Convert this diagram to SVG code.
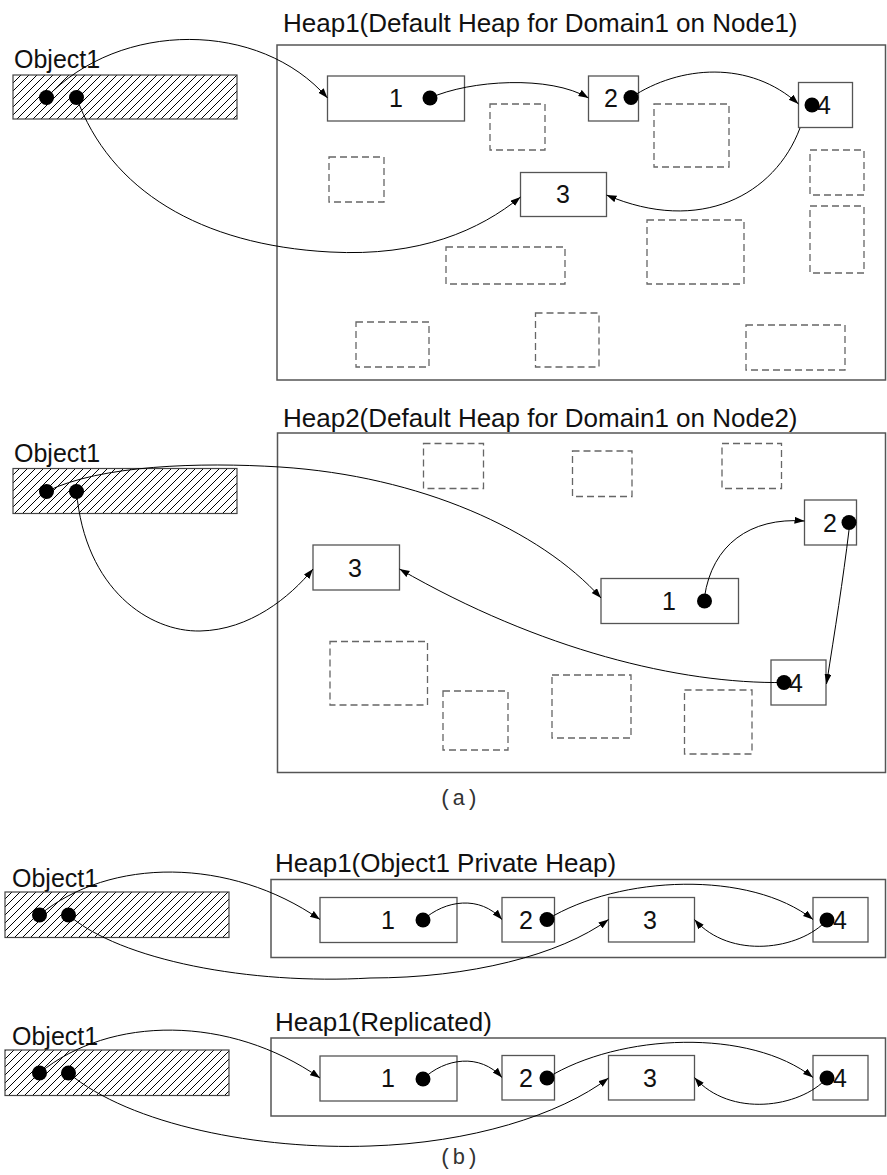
<svg xmlns="http://www.w3.org/2000/svg" width="887" height="1175" viewBox="0 0 887 1175">
<defs>
<pattern id="hatch" patternUnits="userSpaceOnUse" width="8" height="8">
<path d="M-2,2 L2,-2 M0,8 L8,0 M6,10 L10,6" stroke="#000" stroke-width="1"/>
</pattern>
<marker id="arr" markerUnits="userSpaceOnUse" markerWidth="11" markerHeight="8" refX="10" refY="3.5" orient="auto">
<path d="M0,0 L10,3.5 L0,7 z" fill="#000"/>
</marker>
</defs>
<style>
.frame{fill:none;stroke:#555;stroke-width:1.5}
.box{fill:#fff;stroke:#555;stroke-width:1.3}
.free{fill:none;stroke:#666;stroke-width:1.3;stroke-dasharray:7,4}
.obj{fill:url(#hatch);stroke:#444;stroke-width:1.2}
.dot{fill:#000}
.t{font-family:"Liberation Sans",Arial,sans-serif;fill:#111}
.ttl{font-size:26px}
.lbl{font-size:25px}
.num{font-size:25px;text-anchor:middle}
.cap{font-family:"Liberation Mono","Courier New",monospace;font-size:22px;fill:#333}
.c{fill:none;stroke:#000;stroke-width:1;marker-end:url(#arr)}
</style>

<!-- (a) top -->
<g id="heap1a">
<rect class="frame" x="277" y="45" width="608.5" height="335"/>
<text class="t ttl" x="283" y="32">Heap1(Default Heap for Domain1 on Node1)</text>
<rect class="free" x="490" y="104" width="55" height="46"/>
<rect class="free" x="654" y="104" width="75" height="63"/>
<rect class="free" x="329" y="157" width="55" height="45"/>
<rect class="free" x="810" y="150" width="54" height="45"/>
<rect class="free" x="810" y="206" width="54" height="67"/>
<rect class="free" x="446" y="247" width="119" height="37"/>
<rect class="free" x="647" y="220" width="97" height="64"/>
<rect class="free" x="356" y="322" width="73" height="45"/>
<rect class="free" x="535.5" y="313" width="63.5" height="54"/>
<rect class="free" x="746" y="325" width="99" height="45"/>
</g>
<g id="obj1a">
<text class="t lbl" x="14" y="68">Object1</text>
<rect class="obj" x="13" y="75" width="224" height="44"/>
<circle class="dot" cx="46.5" cy="97.5" r="7.5"/>
<circle class="dot" cx="76.5" cy="97.5" r="7.5"/>
</g>
<g id="n1a"><rect class="box" x="327.5" y="76" width="137" height="45"/><text class="t num" x="396" y="107">1</text><circle class="dot" cx="430" cy="98" r="7.5"/></g>
<g id="n2a"><rect class="box" x="588.5" y="76" width="50" height="45"/><text class="t num" x="611" y="107">2</text><circle class="dot" cx="631" cy="97.5" r="7.5"/></g>
<g id="n4a"><rect class="box" x="798.5" y="82.5" width="54" height="45"/><text class="t num" x="824" y="114">4</text><circle class="dot" cx="812" cy="105" r="7.5"/></g>
<g id="n3a"><rect class="box" x="520.5" y="172.5" width="86" height="44"/><text class="t num" x="563" y="203">3</text></g>

<!-- (a) bottom -->
<g id="heap2a">
<rect class="frame" x="277.5" y="433" width="608" height="339.5"/>
<text class="t ttl" x="283" y="427">Heap2(Default Heap for Domain1 on Node2)</text>
<rect class="free" x="423.5" y="443.5" width="60" height="45"/>
<rect class="free" x="572.5" y="451" width="59.5" height="45.5"/>
<rect class="free" x="722" y="443.5" width="59.5" height="45"/>
<rect class="free" x="330" y="641.5" width="97.5" height="63.5"/>
<rect class="free" x="443" y="691" width="65" height="59"/>
<rect class="free" x="552" y="675" width="79" height="63"/>
<rect class="free" x="684.5" y="690" width="67.5" height="64"/>
</g>
<g id="obj1b">
<text class="t lbl" x="14" y="462">Object1</text>
<rect class="obj" x="13" y="468.5" width="224" height="45"/>
<circle class="dot" cx="46.5" cy="491.5" r="7.5"/>
<circle class="dot" cx="76.5" cy="491.5" r="7.5"/>
</g>
<g id="n3b"><rect class="box" x="313" y="545" width="86.5" height="45"/><text class="t num" x="355" y="576.5">3</text></g>
<g id="n1b"><rect class="box" x="601" y="578.5" width="137.5" height="45"/><text class="t num" x="669" y="610">1</text><circle class="dot" cx="704.5" cy="601" r="7.5"/></g>
<g id="n2b"><rect class="box" x="804.5" y="500" width="52" height="45"/><text class="t num" x="830" y="532">2</text><circle class="dot" cx="849" cy="522.5" r="7.5"/></g>
<g id="n4b"><rect class="box" x="771" y="660" width="55" height="45"/><text class="t num" x="796" y="691.5">4</text><circle class="dot" cx="784" cy="682.5" r="7.5"/></g>
<text class="cap" x="439" y="805">(a)</text>

<!-- (b) top -->
<g id="heap1b">
<rect class="frame" x="271" y="879.5" width="614.5" height="78"/>
<text class="t ttl" x="275" y="872">Heap1(Object1 Private Heap)</text>
</g>
<g id="obj1c">
<text class="t lbl" x="12" y="887">Object1</text>
<rect class="obj" x="5" y="892" width="224" height="45.5"/>
<circle class="dot" cx="39.5" cy="915" r="7.5"/>
<circle class="dot" cx="68.5" cy="915" r="7.5"/>
</g>
<g id="n1c"><rect class="box" x="320" y="897.5" width="137" height="45"/><text class="t num" x="388" y="928.5">1</text><circle class="dot" cx="423" cy="920" r="7.5"/></g>
<g id="n2c"><rect class="box" x="502" y="897.5" width="52.5" height="44.5"/><text class="t num" x="526" y="928.5">2</text><circle class="dot" cx="547" cy="919.5" r="7.5"/></g>
<g id="n3c"><rect class="box" x="608.5" y="897.5" width="86" height="44.5"/><text class="t num" x="650" y="928.5">3</text></g>
<g id="n4c"><rect class="box" x="813" y="897.5" width="55" height="44.5"/><text class="t num" x="840" y="928.5">4</text><circle class="dot" cx="827" cy="920" r="7.5"/></g>

<!-- (b) bottom -->
<g id="heap1c">
<rect class="frame" x="271" y="1038" width="614.5" height="78"/>
<text class="t ttl" x="275" y="1031">Heap1(Replicated)</text>
</g>
<g id="obj1d">
<text class="t lbl" x="12" y="1045">Object1</text>
<rect class="obj" x="5" y="1050" width="224" height="45.5"/>
<circle class="dot" cx="39.5" cy="1073" r="7.5"/>
<circle class="dot" cx="68.5" cy="1073" r="7.5"/>
</g>
<g id="n1d"><rect class="box" x="320" y="1056" width="137" height="45"/><text class="t num" x="388" y="1087">1</text><circle class="dot" cx="423" cy="1079" r="7.5"/></g>
<g id="n2d"><rect class="box" x="502" y="1055.5" width="52.5" height="44.5"/><text class="t num" x="526" y="1087">2</text><circle class="dot" cx="547" cy="1078" r="7.5"/></g>
<g id="n3d"><rect class="box" x="608.5" y="1055.5" width="86" height="44.5"/><text class="t num" x="650" y="1087">3</text></g>
<g id="n4d"><rect class="box" x="813" y="1055.5" width="55" height="44.5"/><text class="t num" x="840" y="1087">4</text><circle class="dot" cx="827" cy="1078" r="7.5"/></g>
<text class="cap" x="439" y="1164">(b)</text>

<g id="connectors">
<!-- a top -->
<path class="c" d="M46.5,97.5 C120,20 260,20 327.5,98"/>
<path class="c" d="M76.5,97.5 C110,190 200,245 330,252 C420,257 480,230 520.5,197"/>
<path class="c" d="M430,98 C470,80 550,75 588.5,98"/>
<path class="c" d="M631,97.5 C680,65 750,60 798.5,104"/>
<path class="c" d="M800,128 C775,195 700,235 606.5,195"/>
<!-- a bottom -->
<path class="c" d="M46.5,491.5 C100,465 200,462 280,467 C420,476 540,530 601,598"/>
<path class="c" d="M76.5,491.5 C85,590 150,632 200,631 C250,630 290,597 313,569"/>
<path class="c" d="M704.5,597 C712,545 750,517 804.5,521"/>
<path class="c" d="M849,530 C843,580 835,630 826.5,684"/>
<path class="c" d="M784,682.5 C680,684 540,650 399.5,569"/>
<!-- b top -->
<path class="c" d="M39.5,915 C110,857 230,857 320,919.5"/>
<path class="c" d="M68.5,915 C120,960 250,985 370,978 C470,978 560,955 608.5,919.5"/>
<path class="c" d="M423,920 C445,900 480,895 502,919.5"/>
<path class="c" d="M547,919.5 C620,875 750,870 813,919.5"/>
<path class="c" d="M827,920 C800,950 730,960 694.5,919.5"/>
<!-- b bottom -->
<path class="c" d="M39.5,1073 C110,1015 230,1015 320,1078"/>
<path class="c" d="M68.5,1073 C130,1125 260,1150 370,1146 C470,1143 560,1115 608.5,1078"/>
<path class="c" d="M423,1079 C445,1058 480,1053 502,1077.5"/>
<path class="c" d="M547,1078 C620,1033 750,1028 813,1077.5"/>
<path class="c" d="M827,1078 C800,1108 730,1118 694.5,1077.5"/>
</g>
</svg>
